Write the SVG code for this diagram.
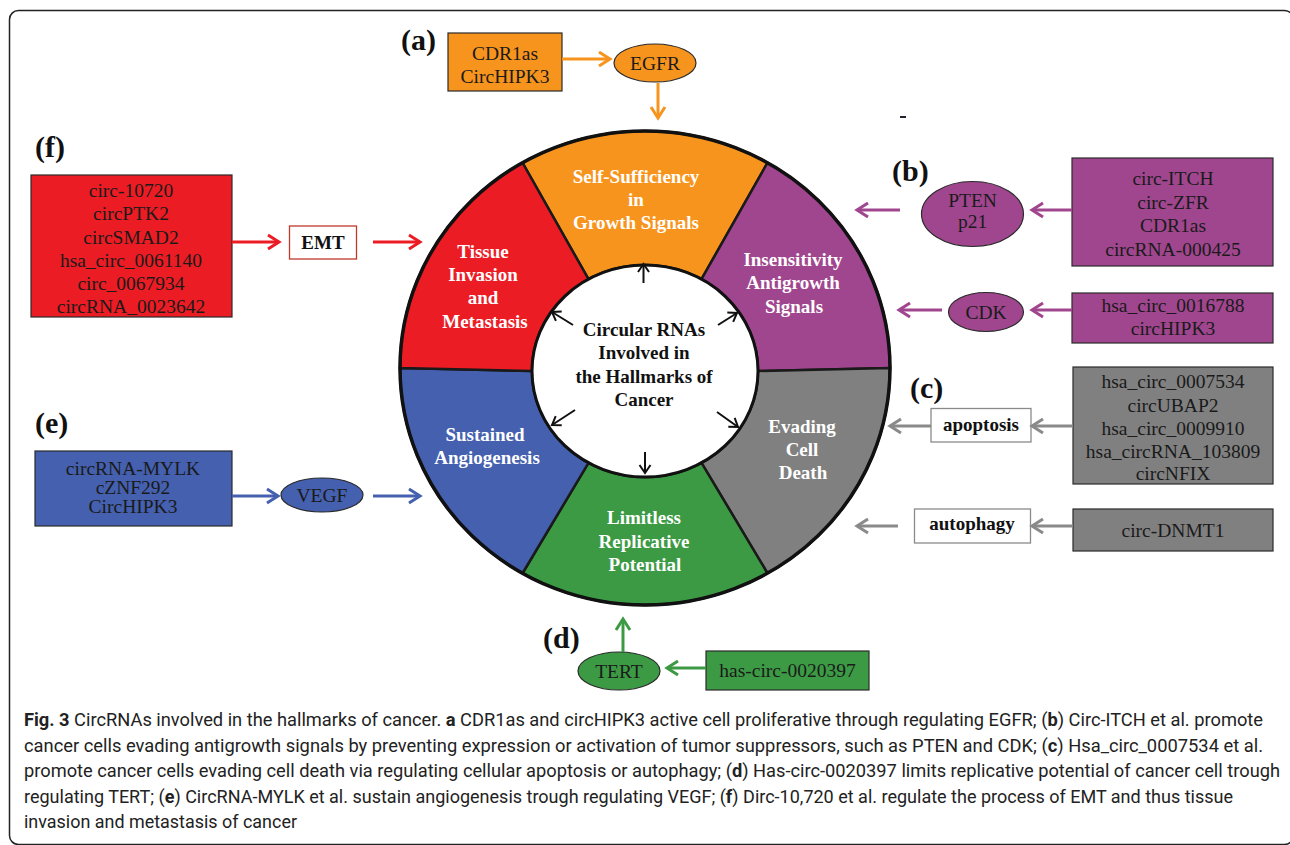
<svg xmlns="http://www.w3.org/2000/svg" width="1290" height="845" viewBox="0 0 1290 845">
<style>
.bx{stroke:#2a2a2a;stroke-width:1.2}
.t{font-family:"Liberation Serif","Times New Roman",serif;font-size:19.5px;fill:#1a1a1a;text-anchor:middle}
.tb{font-family:"Liberation Serif","Times New Roman",serif;font-size:19px;font-weight:bold;fill:#111;text-anchor:middle}
.lab{font-family:"Liberation Serif","Times New Roman",serif;font-size:30px;font-weight:bold;fill:#111}
.seg{stroke:#1a1a1a;stroke-width:2.5}
.sl{font-family:"Liberation Serif","Times New Roman",serif;font-size:19px;font-weight:bold;fill:#fff;text-anchor:middle}
.cl{font-family:"Liberation Serif","Times New Roman",serif;font-size:19px;font-weight:bold;fill:#111;text-anchor:middle}
.cap{font-family:Roboto,"Open Sans",sans-serif;font-size:17.5px;fill:#222}
.ar{fill:none;stroke-width:3}
.ca{fill:none;stroke:#111;stroke-width:2}
</style>
<defs>
<marker id="mo" markerUnits="userSpaceOnUse" viewBox="-14 -10 18 20" refX="0" refY="0" markerWidth="18" markerHeight="20" orient="auto"><path d="M-11,-7 L0,0 L-11,7" fill="none" stroke="#F7941D" stroke-width="3"/></marker>
<marker id="mp" markerUnits="userSpaceOnUse" viewBox="-14 -10 18 20" refX="0" refY="0" markerWidth="18" markerHeight="20" orient="auto"><path d="M-11,-7 L0,0 L-11,7" fill="none" stroke="#A0468E" stroke-width="3"/></marker>
<marker id="mg" markerUnits="userSpaceOnUse" viewBox="-14 -10 18 20" refX="0" refY="0" markerWidth="18" markerHeight="20" orient="auto"><path d="M-11,-7 L0,0 L-11,7" fill="none" stroke="#8A8A8A" stroke-width="3"/></marker>
<marker id="mgr" markerUnits="userSpaceOnUse" viewBox="-14 -10 18 20" refX="0" refY="0" markerWidth="18" markerHeight="20" orient="auto"><path d="M-11,-7 L0,0 L-11,7" fill="none" stroke="#3C9A44" stroke-width="3"/></marker>
<marker id="mb" markerUnits="userSpaceOnUse" viewBox="-14 -10 18 20" refX="0" refY="0" markerWidth="18" markerHeight="20" orient="auto"><path d="M-11,-7 L0,0 L-11,7" fill="none" stroke="#4460AE" stroke-width="3"/></marker>
<marker id="mr" markerUnits="userSpaceOnUse" viewBox="-14 -10 18 20" refX="0" refY="0" markerWidth="18" markerHeight="20" orient="auto"><path d="M-11,-7 L0,0 L-11,7" fill="none" stroke="#EC1C24" stroke-width="3"/></marker>
<marker id="mk" markerUnits="userSpaceOnUse" viewBox="-10 -8 13 16" refX="0" refY="0" markerWidth="13" markerHeight="16" orient="auto"><path d="M-8,-5.5 L0,0 L-8,5.5" fill="none" stroke="#111" stroke-width="2"/></marker>
</defs>
<rect x="0" y="0" width="1290" height="845" fill="#fff"/>
<rect x="9.5" y="10.5" width="1284" height="834" rx="9" fill="none" stroke="#222" stroke-width="1.5"/>
<line x1="900" y1="117" x2="906" y2="117" stroke="#223" stroke-width="2"/>

<g id="hallmarks-wheel">
<g id="seg-self-sufficiency"><path class="seg" fill="#F7941D" d="M522.5,162.75 A245,237 0 0 1 767.5,162.75 L701.5,279.2 A113,106 0 0 0 588.5,279.2 Z"/>
<text class="sl" x="636" y="183">Self-Sufficiency</text><text class="sl" x="636" y="206">in</text><text class="sl" x="636" y="229">Growth Signals</text></g>
<g id="seg-insensitivity"><path class="seg" fill="#A0468E" d="M767.5,162.75 A245,237 0 0 1 890,368 L758,371 A113,106 0 0 0 701.5,279.2 Z"/>
<text class="sl" x="793" y="266">Insensitivity</text><text class="sl" x="793" y="289">Antigrowth</text><text class="sl" x="794" y="313">Signals</text></g>
<g id="seg-evading"><path class="seg" fill="#808080" d="M890,368 A245,237 0 0 1 767.5,573.25 L701.5,462.8 A113,106 0 0 0 758,371 Z"/>
<text class="sl" x="802" y="433">Evading</text><text class="sl" x="802" y="456">Cell</text><text class="sl" x="803" y="479">Death</text></g>
<g id="seg-limitless"><path class="seg" fill="#3C9A44" d="M767.5,573.25 A245,237 0 0 1 522.5,573.25 L588.5,462.8 A113,106 0 0 0 701.5,462.8 Z"/>
<text class="sl" x="644" y="524">Limitless</text><text class="sl" x="644" y="548">Replicative</text><text class="sl" x="645" y="571">Potential</text></g>
<g id="seg-angiogenesis"><path class="seg" fill="#4460AE" d="M522.5,573.25 A245,237 0 0 1 400,368 L532,371 A113,106 0 0 0 588.5,462.8 Z"/>
<text class="sl" x="485" y="441">Sustained</text><text class="sl" x="487" y="464">Angiogenesis</text></g>
<g id="seg-invasion"><path class="seg" fill="#EC1C24" d="M400,368 A245,237 0 0 1 522.5,162.75 L588.5,279.2 A113,106 0 0 0 532,371 Z"/>
<text class="sl" x="483" y="258">Tissue</text><text class="sl" x="483" y="281">Invasion</text><text class="sl" x="483" y="304">and</text><text class="sl" x="485" y="328">Metastasis</text></g>
<ellipse cx="645" cy="368" rx="245" ry="237" fill="none" stroke="#111" stroke-width="3.5"/>
<g id="center"><ellipse cx="645" cy="371" rx="113" ry="106" fill="#fff" stroke="#111" stroke-width="3"/>
<text class="cl" x="644" y="336">Circular RNAs</text><text class="cl" x="644" y="359">Involved in</text><text class="cl" x="644" y="383">the Hallmarks of</text><text class="cl" x="644" y="406">Cancer</text></g>
</g>

<g id="node-a">
<text class="lab" x="401" y="50">(a)</text>
<rect class="bx" x="448" y="33" width="114" height="58" fill="#F7941D"/>
<text class="t" x="505" y="60">CDR1as</text><text class="t" x="505" y="83">CircHIPK3</text>
</g>
<g id="node-egfr"><ellipse class="bx" cx="655" cy="63" rx="41" ry="19" fill="#F7941D"/><text class="t" x="655" y="69.5">EGFR</text></g>

<g id="node-b">
<text class="lab" x="892" y="181">(b)</text>
<rect class="bx" x="1072" y="158" width="201" height="108" fill="#A0468E"/>
<text class="t" x="1173" y="185">circ-ITCH</text><text class="t" x="1173" y="208.5">circ-ZFR</text><text class="t" x="1173" y="232">CDR1as</text><text class="t" x="1173" y="255.5">circRNA-000425</text>
</g>
<g id="node-pten"><ellipse class="bx" cx="972.5" cy="214" rx="51" ry="32.5" fill="#A0468E"/><text class="t" x="972.5" y="206.5">PTEN</text><text class="t" x="972.5" y="228">p21</text></g>
<g id="node-b2"><rect class="bx" x="1072" y="293" width="201" height="50" fill="#A0468E"/>
<text class="t" x="1173" y="311.5">hsa_circ_0016788</text><text class="t" x="1173" y="335">circHIPK3</text></g>
<g id="node-cdk"><ellipse class="bx" cx="986" cy="312" rx="37.5" ry="19.5" fill="#A0468E"/><text class="t" x="986" y="318.5">CDK</text></g>

<g id="node-c">
<text class="lab" x="910" y="398">(c)</text>
<rect class="bx" x="1073" y="367" width="200" height="117" fill="#808080"/>
<text class="t" x="1173" y="388">hsa_circ_0007534</text><text class="t" x="1173" y="411.5">circUBAP2</text><text class="t" x="1173" y="435">hsa_circ_0009910</text><text class="t" x="1173" y="458">hsa_circRNA_103809</text><text class="t" x="1173" y="480">circNFIX</text>
</g>
<g id="node-apoptosis"><rect x="931" y="408.5" width="100" height="33.5" fill="#fff" stroke="#8A8A8A" stroke-width="1.3"/><text class="tb" x="981" y="431">apoptosis</text></g>
<g id="node-c2"><rect class="bx" x="1073" y="509" width="200" height="42" fill="#808080"/><text class="t" x="1173" y="536.5">circ-DNMT1</text></g>
<g id="node-autophagy"><rect x="914.5" y="509" width="116" height="34" fill="#fff" stroke="#8A8A8A" stroke-width="1.3"/><text class="tb" x="972" y="530">autophagy</text></g>

<g id="node-d">
<text class="lab" x="543" y="648">(d)</text>
<rect class="bx" x="706" y="651" width="163" height="39" fill="#3C9A44"/><text class="t" x="787.5" y="677">has-circ-0020397</text>
</g>
<g id="node-tert"><ellipse class="bx" cx="619" cy="671" rx="41" ry="19" fill="#3C9A44"/><text class="t" x="619" y="677.5">TERT</text></g>

<g id="node-e">
<text class="lab" x="35" y="433">(e)</text>
<rect class="bx" x="35" y="451" width="197" height="75" fill="#4460AE"/>
<text class="t" x="133" y="475">circRNA-MYLK</text><text class="t" x="133" y="494">cZNF292</text><text class="t" x="133" y="512.5">CircHIPK3</text>
</g>
<g id="node-vegf"><ellipse class="bx" cx="322" cy="495" rx="41" ry="17" fill="#4460AE"/><text class="t" x="322" y="501.5">VEGF</text></g>

<g id="node-f">
<text class="lab" x="35" y="157">(f)</text>
<rect class="bx" x="31" y="175" width="201" height="142" fill="#EC1C24"/>
<text class="t" x="131" y="196.5">circ-10720</text><text class="t" x="131" y="220">circPTK2</text><text class="t" x="131" y="243.5">circSMAD2</text><text class="t" x="131" y="266.5">hsa_circ_0061140</text><text class="t" x="131" y="290">circ_0067934</text><text class="t" x="131" y="313">circRNA_0023642</text>
</g>
<g id="node-emt"><rect x="289.5" y="226" width="67" height="33" fill="#fff" stroke="#C0392B" stroke-width="1.3"/><text class="tb" x="323" y="248.5">EMT</text></g>

<g id="connectors">
<line class="ar" stroke="#F7941D" x1="562" y1="59" x2="610" y2="59" marker-end="url(#mo)"/>
<line class="ar" stroke="#F7941D" x1="658" y1="83" x2="658" y2="118" marker-end="url(#mo)"/>
<line class="ar" stroke="#A0468E" x1="1072" y1="210" x2="1032" y2="210" marker-end="url(#mp)"/>
<line class="ar" stroke="#A0468E" x1="900" y1="210" x2="857" y2="210" marker-end="url(#mp)"/>
<line class="ar" stroke="#A0468E" x1="1072" y1="310" x2="1032" y2="310" marker-end="url(#mp)"/>
<line class="ar" stroke="#A0468E" x1="942" y1="310" x2="899" y2="310" marker-end="url(#mp)"/>
<line class="ar" stroke="#8A8A8A" x1="1073" y1="426" x2="1032" y2="426" marker-end="url(#mg)"/>
<line class="ar" stroke="#8A8A8A" x1="931" y1="426" x2="890" y2="426" marker-end="url(#mg)"/>
<line class="ar" stroke="#8A8A8A" x1="1073" y1="526" x2="1032" y2="526" marker-end="url(#mg)"/>
<line class="ar" stroke="#8A8A8A" x1="898" y1="526" x2="857" y2="526" marker-end="url(#mg)"/>
<line class="ar" stroke="#3C9A44" x1="623" y1="652" x2="623" y2="619" marker-end="url(#mgr)"/>
<line class="ar" stroke="#3C9A44" x1="706" y1="668" x2="667" y2="668" marker-end="url(#mgr)"/>
<line class="ar" stroke="#4460AE" x1="232" y1="496" x2="278" y2="496" marker-end="url(#mb)"/>
<line class="ar" stroke="#4460AE" x1="373" y1="496" x2="420" y2="496" marker-end="url(#mb)"/>
<line class="ar" stroke="#EC1C24" x1="232" y1="242" x2="279" y2="242" marker-end="url(#mr)"/>
<line class="ar" stroke="#EC1C24" x1="373" y1="242" x2="420" y2="242" marker-end="url(#mr)"/>
<line class="ca" x1="643.5" y1="283" x2="643.5" y2="264" marker-end="url(#mk)"/>
<line class="ca" x1="573" y1="325" x2="552" y2="312" marker-end="url(#mk)"/>
<line class="ca" x1="718" y1="325" x2="737" y2="313" marker-end="url(#mk)"/>
<line class="ca" x1="575" y1="410" x2="552" y2="425" marker-end="url(#mk)"/>
<line class="ca" x1="717" y1="412" x2="738" y2="427" marker-end="url(#mk)"/>
<line class="ca" x1="645" y1="452" x2="645" y2="473" marker-end="url(#mk)"/>
</g>

<g id="caption">
<text class="cap" x="24" y="726" textLength="1239" lengthAdjust="spacingAndGlyphs"><tspan font-weight="bold">Fig. 3</tspan> CircRNAs involved in the hallmarks of cancer. <tspan font-weight="bold">a</tspan> CDR1as and circHIPK3 active cell proliferative through regulating EGFR; (<tspan font-weight="bold">b</tspan>) Circ-ITCH et al. promote</text>
<text class="cap" x="24" y="751.5" textLength="1239" lengthAdjust="spacingAndGlyphs">cancer cells evading antigrowth signals by preventing expression or activation of tumor suppressors, such as PTEN and CDK; (<tspan font-weight="bold">c</tspan>) Hsa_circ_0007534 et al.</text>
<text class="cap" x="24" y="777" textLength="1256" lengthAdjust="spacingAndGlyphs">promote cancer cells evading cell death via regulating cellular apoptosis or autophagy; (<tspan font-weight="bold">d</tspan>) Has-circ-0020397 limits replicative potential of cancer cell trough</text>
<text class="cap" x="24" y="802.5" textLength="1209" lengthAdjust="spacingAndGlyphs">regulating TERT; (<tspan font-weight="bold">e</tspan>) CircRNA-MYLK et al. sustain angiogenesis trough regulating VEGF; (<tspan font-weight="bold">f</tspan>) Dirc-10,720 et al. regulate the process of EMT and thus tissue</text>
<text class="cap" x="24" y="828" textLength="273" lengthAdjust="spacingAndGlyphs">invasion and metastasis of cancer</text>
</g>
</svg>
